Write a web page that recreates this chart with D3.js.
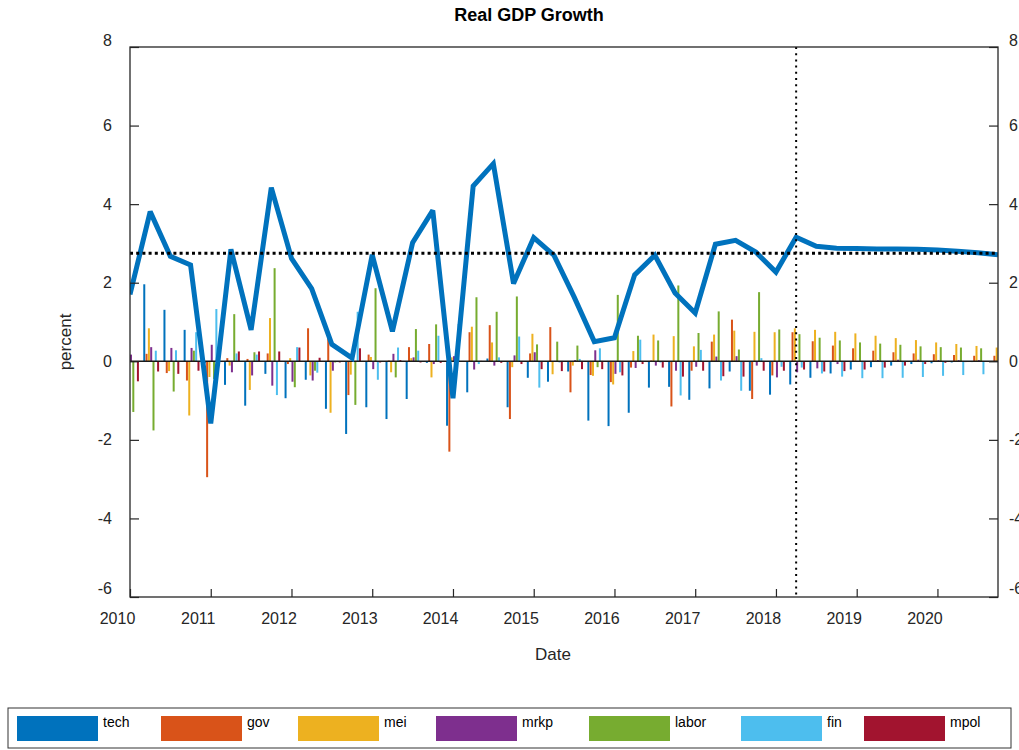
<!DOCTYPE html>
<html>
<head>
<meta charset="utf-8">
<title>Real GDP Growth</title>
<script src="https://cdn.jsdelivr.net/npm/d3@7/dist/d3.min.js"></script>
<style>
body { margin: 0; background: #fff; font-family: "Liberation Sans", Arial, sans-serif; }
.axis path, .axis line { stroke: #262626; stroke-width: 1.2px; }
.axis text { font-size: 16px; fill: #262626; font-family: "Liberation Sans", Arial, sans-serif; }
</style>
</head>
<body>
<script>

// quarters 2010Q1 .. 2020Q4
var quarters = ["2010Q1","2010Q2","2010Q3","2010Q4","2011Q1","2011Q2","2011Q3","2011Q4",
  "2012Q1","2012Q2","2012Q3","2012Q4","2013Q1","2013Q2","2013Q3","2013Q4",
  "2014Q1","2014Q2","2014Q3","2014Q4","2015Q1","2015Q2","2015Q3","2015Q4",
  "2016Q1","2016Q2","2016Q3","2016Q4","2017Q1","2017Q2","2017Q3","2017Q4",
  "2018Q1","2018Q2","2018Q3","2018Q4","2019Q1","2019Q2","2019Q3","2019Q4",
  "2020Q1","2020Q2","2020Q3","2020Q4"];

var gdp = [1.70, 3.81, 2.67, 2.45, -1.58, 2.85, 0.80, 4.42, 2.62, 1.85, 0.43, 0.08,
  2.71, 0.76, 3.02, 3.84, -0.94, 4.46, 5.03, 1.98, 3.15, 2.70, 1.64, 0.50,
  0.60, 2.20, 2.70, 1.74, 1.23, 2.98, 3.08, 2.78, 2.27, 3.16, 2.93, 2.88,
  2.87, 2.86, 2.86, 2.85, 2.83, 2.80, 2.76, 2.71];

var tech  = [0.50, 1.96, 1.31, 0.80, -0.05, -0.60, -1.13, -0.32, -0.94, -0.47, -1.21, -1.85,
  -1.17, -1.47, -0.96, -0.04, -1.64, -0.79, 0.07, -1.17, -0.42, -0.52, -0.26, -1.51,
  -1.65, -1.31, -0.67, -0.65, -0.98, -0.69, -0.26, -0.75, -0.85, -0.59, -0.42, -0.31,
  -0.21, -0.15, -0.11, -0.07, -0.05, -0.03, -0.02, -0.01];
var gov   = [0.10, 0.19, -0.30, -0.49, -2.95, 0.08, 0.06, 0.20, -0.07, 0.84, 0.61, -0.86,
  0.17, 0.02, 0.36, 0.44, -2.30, 0.74, 0.92, -1.47, 0.20, 0.87, -0.79, -0.35,
  -0.53, -0.16, 0.02, -1.15, -0.24, 0.50, 1.06, -0.96, -0.36, 0.74, 0.51, 0.40,
  0.33, 0.27, 0.23, 0.20, 0.18, 0.16, 0.14, 0.14];
var mei   = [-0.20, 0.84, -0.25, -1.38, -0.40, -0.11, -0.73, 1.10, 0.08, -0.36, -1.31, -0.34,
  0.11, -0.28, 0.08, -0.41, 0.10, 0.88, 0.48, -0.15, 0.70, -0.33, -0.11, -0.37,
  -0.59, 0.26, 0.68, 0.64, 0.38, 0.68, 0.78, 0.75, 0.74, 0.84, 0.80, 0.75,
  0.71, 0.65, 0.59, 0.54, 0.48, 0.44, 0.39, 0.35];
var mrkp  = [0.17, 0.36, 0.34, 0.34, 0.42, -0.28, -0.36, -0.62, -0.52, -0.49, -0.24, 0.05,
  -0.20, 0.19, 0.10, -0.07, 0.13, -0.21, -0.11, 0.15, 0.23, 0.01, 0.03, 0.28,
  -0.32, -0.17, -0.11, -0.24, -0.14, 0.12, 0.13, -0.11, -0.41, -0.28, -0.18, -0.07,
  0.01, 0.03, 0.04, 0.04, 0.03, 0.03, 0.03, 0.02];
var labor = [-1.29, -1.76, -0.77, 0.27, -0.45, 1.20, 0.23, 2.37, -0.66, -0.24, -0.03, -1.11,
  1.86, -0.41, 0.82, 0.94, 0.20, 1.63, 1.26, 1.65, 0.43, 0.50, 0.40, -0.15,
  1.69, 0.65, 0.53, 1.93, 0.72, 1.27, 0.30, 1.76, 0.81, 0.69, 0.60, 0.53,
  0.48, 0.45, 0.42, 0.38, 0.36, 0.35, 0.33, 0.30];
var fin   = [0.00, 0.27, 0.28, 0.74, 1.33, 0.20, 0.17, -0.86, 0.36, -0.29, -0.02, 1.26,
  -0.47, 0.35, 0.27, 0.65, 0.95, -0.07, 0.10, 0.63, -0.67, -0.03, 0.06, 0.33,
  -0.28, 0.55, -0.03, -0.87, 0.29, -0.49, -0.75, 0.08, -0.14, -0.16, -0.31, -0.39,
  -0.43, -0.43, -0.42, -0.40, -0.37, -0.35, -0.33, -0.30];
var mpol  = [-0.51, -0.26, -0.32, -0.24, 0.00, 0.25, 0.25, 0.25, 0.35, 0.09, -0.03, 0.33,
  -0.03, 0.03, -0.03, -0.04, 0.00, 0.01, -0.04, -0.07, -0.20, -0.25, -0.20, -0.20,
  -0.36, -0.07, -0.16, -0.39, -0.24, -0.38, -0.39, -0.24, -0.24, -0.21, -0.26, -0.25,
  -0.21, -0.16, -0.11, -0.07, -0.04, -0.02, -0.01, 0.00];

var seriesNames = ["tech", "gov", "mei", "mrkp", "labor", "fin", "mpol"];
var seriesData = [tech, gov, mei, mrkp, labor, fin, mpol];
var colors = ["#0072BD", "#D95319", "#EDB120", "#7E2F8E", "#77AC30", "#4DBEEE", "#A2142F"];

var yTicks = [-6, -4, -2, 0, 2, 4, 6, 8];
var xTicks = [2010, 2011, 2012, 2013, 2014, 2015, 2016, 2017, 2018, 2019, 2020];
var steadyState = 2.75;
var forecastStart = "2018Q2";

function qnum(q) { return +q.slice(0, 4) + (+q.slice(5) - 1) / 4; }
function fmt(d) { return String(d); }   // plain hyphen minus, like matlab

var W = 1019, H = 750;
var plotL = 130, plotR = 998, plotT = 47, plotB = 597;

var x = d3.scaleLinear().domain([qnum(quarters[0]), qnum(quarters[quarters.length - 1])]).range([plotL, plotR]);
var y = d3.scaleLinear().domain([-6, 8]).range([plotB, plotT]);

var svg = d3.select("body").append("svg")
    .attr("width", W)
    .attr("height", H);

svg.append("defs").append("clipPath").attr("id", "plotclip")
  .append("rect")
    .attr("x", plotL).attr("y", plotT)
    .attr("width", plotR - plotL).attr("height", plotB - plotT);

var plot = svg.append("g").attr("clip-path", "url(#plotclip)");

// grouped bars, matlab style
var qStep = x(qnum(quarters[1])) - x(qnum(quarters[0]));
var barStep = qStep * 0.8 / seriesNames.length;
var barW = 2;

seriesData.forEach(function(vals, j) {
  plot.append("g")
    .selectAll("rect")
    .data(vals)
    .enter().append("rect")
      .attr("x", function(d, i) { return x(qnum(quarters[i])) + (j - 3) * barStep + 1 - barW / 2; })
      .attr("y", function(d) { return y(Math.max(0, d)); })
      .attr("width", barW)
      .attr("height", function(d) { return Math.abs(y(d) - y(0)); })
      .attr("fill", colors[j]);
});

// baseline
plot.append("line")
    .attr("x1", plotL).attr("x2", plotR)
    .attr("y1", y(0)).attr("y2", y(0))
    .attr("stroke", "#1a1a1a")
    .attr("stroke-width", 1.5);

var line = d3.line()
    .x(function(d, i) { return x(qnum(quarters[i])); })
    .y(function(d) { return y(d); });

plot.append("path")
    .datum(gdp)
    .attr("d", line)
    .attr("fill", "none")
    .attr("stroke", "#0072BD")
    .attr("stroke-width", 5)
    .attr("stroke-linejoin", "miter")
    .attr("stroke-miterlimit", 3);

// steady state & forecast start
plot.append("line")
    .attr("x1", plotL).attr("x2", plotR)
    .attr("y1", y(steadyState)).attr("y2", y(steadyState))
    .attr("stroke", "#000")
    .attr("stroke-width", 3)
    .style("stroke-dasharray", "3,3.2");

plot.append("line")
    .attr("x1", x(qnum(forecastStart))).attr("x2", x(qnum(forecastStart)))
    .attr("y1", plotT).attr("y2", plotB)
    .attr("stroke", "#000")
    .attr("stroke-width", 2)
    .style("stroke-dasharray", "2,4.2");

// axes
function nudgeEnds(g) {
  g.select(".domain").remove();
  g.selectAll(".tick text").attr("dy", function(d) {
    if (d === 8) return "-0.1em";
    if (d === -6) return "-0.2em";
    return "0.32em";
  });
}

svg.append("g")
    .attr("class", "axis")
    .attr("transform", "translate(" + plotL + ",0)")
    .call(d3.axisLeft(y).tickValues(yTicks).tickSize(-9).tickPadding(18).tickFormat(fmt))
    .call(nudgeEnds);

svg.append("g")
    .attr("class", "axis")
    .attr("transform", "translate(" + plotR + ",0)")
    .call(d3.axisRight(y).tickValues(yTicks).tickSize(-9).tickPadding(11).tickFormat(fmt))
    .call(nudgeEnds);

var xa = svg.append("g")
    .attr("class", "axis")
    .attr("transform", "translate(0," + plotB + ")")
    .call(d3.axisBottom(x).tickValues(xTicks).tickSize(-8).tickPadding(16).tickFormat(fmt))
    .call(function(g) { g.select(".domain").remove(); });
xa.selectAll("text").attr("dx", -13);

svg.append("rect")
    .attr("x", plotL).attr("y", plotT)
    .attr("width", plotR - plotL).attr("height", plotB - plotT)
    .attr("fill", "none")
    .attr("stroke", "#262626")
    .attr("stroke-width", 1.3);

// labels
svg.append("text")
    .attr("x", 529).attr("y", 21)
    .attr("text-anchor", "middle")
    .style("font-size", "18px")
    .style("font-weight", "bold")
    .attr("fill", "#000")
    .text("Real GDP Growth");

svg.append("text")
    .attr("transform", "translate(71,342) rotate(-90)")
    .attr("text-anchor", "middle")
    .style("font-size", "17px")
    .attr("fill", "#262626")
    .text("percent");

svg.append("text")
    .attr("x", 553).attr("y", 660)
    .attr("text-anchor", "middle")
    .style("font-size", "17px")
    .attr("fill", "#262626")
    .text("Date");

// legend
var legend = svg.append("g");
legend.append("rect")
    .attr("x", 8).attr("y", 708)
    .attr("width", 1003).attr("height", 40)
    .attr("fill", "#fff")
    .attr("stroke", "#333")
    .attr("stroke-width", 1);

var legX = [17, 161, 298, 436, 589, 741, 864];
seriesNames.forEach(function(name, j) {
  legend.append("rect")
      .attr("x", legX[j]).attr("y", 716)
      .attr("width", 81).attr("height", 25)
      .attr("fill", colors[j]);
  legend.append("text")
      .attr("x", legX[j] + 86).attr("y", 727)
      .style("font-size", "14px")
      .attr("fill", "#000")
      .text(name);
});

</script>
</body>
</html>
